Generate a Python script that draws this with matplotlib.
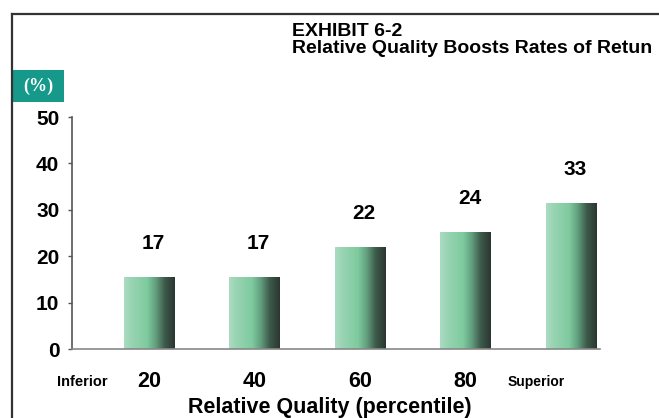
import matplotlib
matplotlib.use("Agg")
import matplotlib.pyplot as plt
from matplotlib.colors import LinearSegmentedColormap
from matplotlib.patches import Rectangle
import numpy as np

quality_labels = ["20", "40", "60", "80"]
bar_heights = [15.5, 15.5, 22.0, 25.2, 31.5]   # drawn bar heights
value_labels = ["17", "17", "22", "24", "33"]  # printed values
end_labels = ["Inferior", "Superior"]
y_ticks = [0, 10, 20, 30, 40, 50]

plt.rcParams["font.family"] = ["Liberation Sans", "DejaVu Sans"]

fig = plt.figure(figsize=(6.59, 4.18), dpi=100)
ax = fig.add_axes([0.109, 0.165, 0.802, 0.555])

x = np.arange(len(bar_heights))
bars = ax.bar(x, bar_heights, width=0.475, color="none", edgecolor="none", zorder=2)

# horizontal shading on each bar (light mint -> dark green)
cmap = LinearSegmentedColormap.from_list(
    "barshade",
    [(0.0, "#acdcc2"), (0.15, "#98d4b3"), (0.45, "#7fcb9f"),
     (0.62, "#62a07f"), (0.8, "#3d5a4b"), (1.0, "#2b3631")])
grad = np.linspace(0, 1, 256).reshape(1, -1)
for b in bars:
    x0, y0 = b.get_x(), b.get_y()
    im = ax.imshow(grad, cmap=cmap, aspect="auto", zorder=2,
                   extent=[x0, x0 + b.get_width(), y0, y0 + b.get_height()])
    im.set_clip_path(b)

for xi, h, lab in zip(x, bar_heights, value_labels):
    ax.annotate(lab, (xi, h), xytext=(3, 24), textcoords="offset points",
                ha="center", va="center", fontsize=15, fontweight="bold")

ax.set_xlim(-0.73, 4.28)
ax.set_ylim(0, 50)
ax.set_yticks(y_ticks)
ax.set_yticklabels([str(v) for v in y_ticks], fontsize=15, fontweight="bold")
ax.tick_params(axis="y", length=3, width=1, color="#555555", pad=6)

ax.set_xticks(x[:len(quality_labels)])
ax.set_xticklabels(quality_labels, fontsize=15.5, fontweight="bold")
ax.tick_params(axis="x", length=0, pad=16)
ax.text(-0.63, -0.14, end_labels[0], transform=ax.get_xaxis_transform(),
        ha="center", va="center", fontsize=10.5, fontweight="bold")
ax.text(3.67, -0.14, end_labels[1], transform=ax.get_xaxis_transform(),
        ha="center", va="center", fontsize=10, fontweight="bold")

for s in ["top", "right"]:
    ax.spines[s].set_visible(False)
ax.spines["left"].set_color("#555555")
ax.spines["bottom"].set_color("#888888")
ax.spines["left"].set_linewidth(1.2)
ax.spines["bottom"].set_linewidth(1.2)

fig.text(0.501, 0.026, "Relative Quality (percentile)", ha="center", va="center",
         fontsize=15.5, fontweight="bold")

# title block
fig.text(0.443, 0.925, "EXHIBIT 6-2", ha="left", va="center",
         fontsize=14, fontweight="bold")
fig.text(0.443, 0.884, "Relative Quality Boosts Rates of Retun", ha="left",
         va="center", fontsize=14, fontweight="bold")

# unit badge
fig.patches.append(Rectangle((0.018, 0.756), 0.079, 0.077, transform=fig.transFigure,
                             facecolor="#16998a", edgecolor="none"))
fig.text(0.058, 0.794, "(%)", ha="center", va="center", color="white",
         fontsize=13, fontweight="bold", family="Liberation Serif")

# frame lines
fig.add_artist(plt.Line2D([0.018, 1.0], [0.9665, 0.9665], transform=fig.transFigure,
                          color="#333333", linewidth=1.6))
fig.add_artist(plt.Line2D([0.018, 0.018], [0.0, 0.9665], transform=fig.transFigure,
                          color="#333333", linewidth=1.6))

fig.savefig("out.png", dpi=100)
